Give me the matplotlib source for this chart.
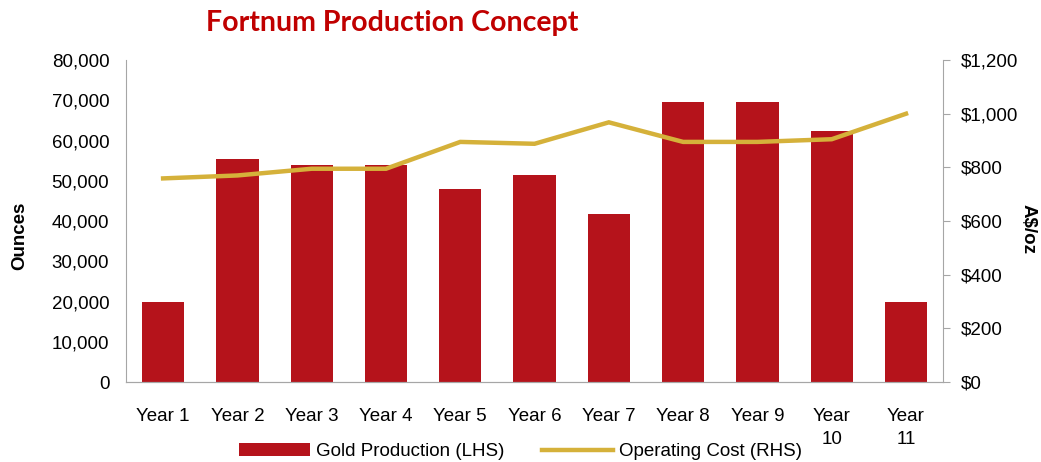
import matplotlib
matplotlib.use('Agg')
import matplotlib.pyplot as plt
from matplotlib.ticker import FuncFormatter

plt.rcParams['font.family'] = ['Liberation Sans', 'DejaVu Sans']

# data
years = ['Year 1', 'Year 2', 'Year 3', 'Year 4', 'Year 5', 'Year 6',
         'Year 7', 'Year 8', 'Year 9', 'Year\n10', 'Year\n11']
gold_oz = [20000, 55500, 54000, 54000, 48000, 51500,
           41800, 69500, 69500, 62500, 19800]
op_cost = [759, 770, 795, 795, 895, 888, 968, 895, 895, 905, 1000]

bar_col = '#B5131B'
line_col = '#D5B13A'
grey = '#A6A6A6'

fig = plt.figure(figsize=(10.41, 4.62), dpi=100)
ax = fig.add_axes([0.121, 0.173, 0.785, 0.697])
ax2 = ax.twinx()

x = range(len(years))
b = ax.bar(x, gold_oz, width=0.57, color=bar_col, label='Gold Production (LHS)', zorder=2)
l, = ax2.plot(x, op_cost, color=line_col, lw=3.2, solid_joinstyle='miter',
              label='Operating Cost (RHS)', zorder=3)

ax.set_xlim(-0.5, len(years) - 0.5)
ax.set_ylim(0, 80000)
ax.set_yticks(range(0, 80001, 10000))
ax.yaxis.set_major_formatter(FuncFormatter(lambda v, p: f'{int(v):,}'))
ax2.set_ylim(0, 1200)
ax2.set_yticks(range(0, 1201, 200))
ax2.yaxis.set_major_formatter(FuncFormatter(lambda v, p: f'${int(v):,}'))

ax.set_xticks(list(x))
ax.set_xticklabels(years, fontsize=13.5, va='top', linespacing=1.45)
ax.tick_params(axis='x', length=0, pad=19)
ax.tick_params(axis='y', length=0, labelsize=13.5, pad=12)
ax2.tick_params(axis='y', length=5, color=grey, labelsize=13.5, pad=8)

for a in (ax, ax2):
    a.spines['top'].set_visible(False)
    for s in ('left', 'right', 'bottom'):
        a.spines[s].set_color(grey)
ax.spines['right'].set_visible(False)
ax2.spines['left'].set_visible(False)

fig.text(0.019, 0.49, 'Ounces', fontsize=13.5, fontweight='bold',
         rotation=90, ha='center', va='center')
fig.text(0.988, 0.505, 'A$/oz', fontsize=13.5, fontweight='bold',
         rotation=-90, ha='center', va='center')

fig.text(0.377, 0.95, 'Fortnum Production Concept', fontsize=20.5, fontweight='bold',
         color='#C00000', ha='center', va='center', family=['Lato', 'DejaVu Sans'])

fig.legend([b, l], ['Gold Production (LHS)', 'Operating Cost (RHS)'],
           loc='center', bbox_to_anchor=(0.5, 0.022), ncol=2, frameon=False,
           fontsize=13.5, handlelength=3.8, handletextpad=0.3, columnspacing=2.0)

plt.savefig('out.png', dpi=100)
